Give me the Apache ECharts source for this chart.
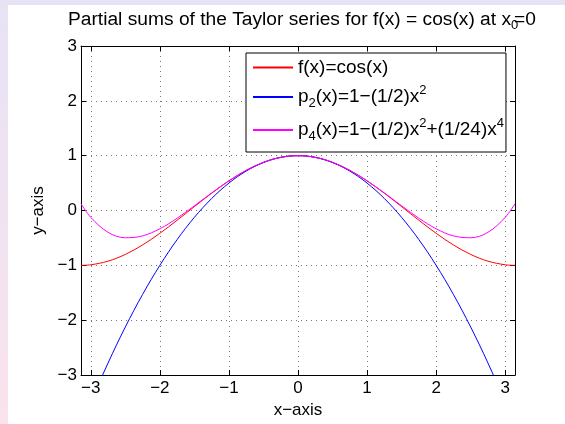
<!DOCTYPE html>
<html><head><meta charset="utf-8">
<script src="https://cdn.jsdelivr.net/npm/echarts@6/dist/echarts.min.js"></script>
<style>html,body{margin:0;padding:0;background:#fff;}#c{width:565px;height:424px;}</style>
</head><body><div id="c"></div>
<script>
// sample points
const xValues = [-3.1416, -3.0, -2.75, -2.5, -2.25, -2.0, -1.75, -1.5, -1.25, -1.0, -0.75, -0.5, -0.25, 0, 0.25, 0.5, 0.75, 1.0, 1.25, 1.5, 1.75, 2.0, 2.25, 2.5, 2.75, 3.0, 3.1416];
const cosValues = [-1.0, -0.99, -0.924, -0.801, -0.628, -0.416, -0.178, 0.071, 0.315, 0.540, 0.732, 0.878, 0.969, 1.0, 0.969, 0.878, 0.732, 0.540, 0.315, 0.071, -0.178, -0.416, -0.628, -0.801, -0.924, -0.99, -1.0];
const p2Values = [-3.935, -3.5, -2.781, -2.125, -1.531, -1.0, -0.531, -0.125, 0.219, 0.5, 0.719, 0.875, 0.969, 1.0, 0.969, 0.875, 0.719, 0.5, 0.219, -0.125, -0.531, -1.0, -1.531, -2.125, -2.781, -3.5, -3.935];
const p4Values = [0.124, -0.125, -0.398, -0.497, -0.463, -0.333, -0.141, 0.086, 0.320, 0.542, 0.732, 0.878, 0.969, 1.0, 0.969, 0.878, 0.732, 0.542, 0.320, 0.086, -0.141, -0.333, -0.463, -0.497, -0.398, -0.125, 0.124];
const xTickLabels = [-3, -2, -1, 0, 1, 2, 3];
const yTickLabels = [-3, -2, -1, 0, 1, 2, 3];
const seriesNames = ['cos', 'p2', 'p4'];
const legendLabels = {
  cos: '{t|f(x)=cos(x)}',
  p2: '{t|p}{s|2}{t|(x)=1−(1/2)x}{u|2}',
  p4: '{t|p}{s|4}{t|(x)=1−(1/2)x}{u|2}{t|+(1/24)x}{u|4}'
};
const seriesColors = ['#ff0000', '#0000ff', '#ff00ff'];

const FONT = '"Liberation Sans", Arial, Helvetica, sans-serif';
const minus = v => String(v).replace('-', '−');
const pairs = arr => xValues.map((x, i) => [x, arr[i]]);
const allSeries = [cosValues, p2Values, p4Values];

const chart = echarts.init(document.getElementById('c'), null, {renderer: 'canvas'});
const gridLine = {show: true, lineStyle: {color: '#777', width: 1, type: [1, 4]}};
const tickStyle = {show: true, inside: true, length: 5, lineStyle: {color: '#000', width: 1}};

chart.setOption({
  backgroundColor: '#fff',
  animation: false,
  color: seriesColors,
  graphic: [
    {type: 'rect', left: 0, top: 0, shape: {width: 8, height: 424}, silent: true,
     style: {fill: new echarts.graphic.LinearGradient(0, 0, 0, 1, [{offset: 0, color: '#e7e3f5'}, {offset: 1, color: '#f9e3ec'}])}},
    {type: 'rect', left: 0, top: 0, shape: {width: 565, height: 5}, silent: true,
     style: {fill: '#e7e3f5'}}
  ],
  title: {
    text: '{t|Partial sums of the Taylor series for f(x) = cos(x) at x}{s|0}{t|=0}',
    left: 68, top: 8, padding: 0,
    textStyle: {
      fontWeight: 'normal',
      rich: {
        t: {fontFamily: FONT, fontSize: 19.2, fontWeight: 'normal', color: '#000', lineHeight: 24},
        s: {fontFamily: FONT, fontSize: 13, fontWeight: 'normal', color: '#000', verticalAlign: 'bottom', lineHeight: 13, width: 3}
      }
    }
  },
  grid: {left: 81, right: 50, top: 46, bottom: 44, show: false},
  legend: {
    orient: 'vertical', left: 246, top: 53,
    backgroundColor: '#fff', borderColor: '#000', borderWidth: 1,
    padding: [5, 2, 9, 7], itemGap: 7, itemWidth: 40, itemHeight: 2, icon: 'rect',
    data: seriesNames.map((n, i) => ({name: n, itemStyle: {color: seriesColors[i]}})),
    formatter: name => legendLabels[name],
    textStyle: {
      rich: {
        t: {fontFamily: FONT, fontSize: 19, color: '#000', lineHeight: 26},
        s: {fontFamily: FONT, fontSize: 13, color: '#000', verticalAlign: 'bottom', lineHeight: 13},
        u: {fontFamily: FONT, fontSize: 13, color: '#000', verticalAlign: 'top', lineHeight: 13}
      }
    }
  },
  xAxis: [
    {type: 'value', min: -Math.PI, max: Math.PI, position: 'bottom',
     name: 'x−axis', nameLocation: 'middle', nameGap: 27,
     nameTextStyle: {fontFamily: FONT, fontSize: 17, color: '#000'},
     axisLine: {show: true, onZero: false, lineStyle: {color: '#000', width: 1}},
     axisTick: tickStyle,
     axisLabel: {show: true, margin: 5, fontFamily: FONT, fontSize: 17, color: '#000', showMinLabel: true, showMaxLabel: true,
       formatter: v => (xTickLabels.indexOf(Math.round(v)) >= 0 && Math.abs(v - Math.round(v)) < 1e-6) ? minus(Math.round(v)) : ''},
     splitLine: gridLine},
    {type: 'value', min: -Math.PI, max: Math.PI, position: 'top',
     axisLine: {show: true, onZero: false, lineStyle: {color: '#000', width: 1}},
     axisTick: tickStyle, axisLabel: {show: false}, splitLine: {show: false}}
  ],
  yAxis: [
    {type: 'value', min: -3, max: 3, interval: 1, position: 'left',
     name: 'y−axis', nameLocation: 'middle', nameGap: 28, nameRotate: 90,
     nameTextStyle: {fontFamily: FONT, fontSize: 17, color: '#000'},
     axisLine: {show: true, onZero: false, lineStyle: {color: '#000', width: 1}},
     axisTick: tickStyle,
     axisLabel: {show: true, margin: 4, fontFamily: FONT, fontSize: 17, color: '#000',
       formatter: v => yTickLabels.indexOf(v) >= 0 ? minus(v) : ''},
     splitLine: gridLine},
    {type: 'value', min: -3, max: 3, interval: 1, position: 'right',
     axisLine: {show: true, onZero: false, lineStyle: {color: '#000', width: 1}},
     axisTick: tickStyle, axisLabel: {show: false}, splitLine: {show: false}}
  ],
  series: seriesNames.map((n, i) => ({
    name: n, type: 'line', xAxisIndex: 0, yAxisIndex: 0,
    data: pairs(allSeries[i]), smooth: 0.35, symbol: 'none', clip: true,
    lineStyle: {color: seriesColors[i], width: 1}, itemStyle: {color: seriesColors[i]}, z: 3
  }))
});
</script></body></html>
